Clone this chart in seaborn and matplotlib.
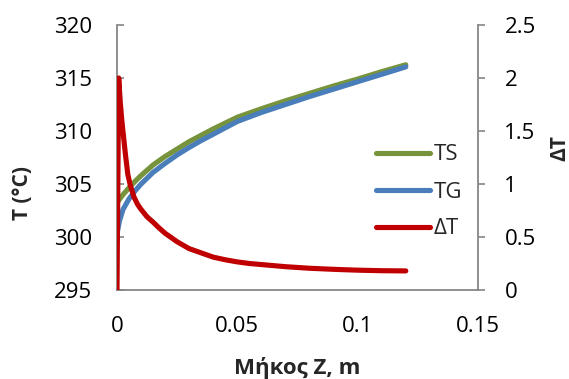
import matplotlib
matplotlib.use("Agg")
import matplotlib.pyplot as plt
import seaborn as sns

# Data
z_t = [0, 0.001, 0.0025, 0.005, 0.0075, 0.01, 0.015, 0.02, 0.025, 0.03, 0.035,
       0.04, 0.05, 0.06, 0.07, 0.08, 0.09, 0.1, 0.11, 0.12]
TS = [303.2, 303.55, 304.0, 304.65, 305.25, 305.8, 306.8, 307.6, 308.3, 309.0, 309.6,
      310.2, 311.3, 312.1, 312.85, 313.55, 314.25, 314.9, 315.6, 316.25]
TG = [300.3, 301.5, 302.6, 303.6, 304.35, 305.0, 306.1, 306.95, 307.75, 308.45, 309.1,
      309.7, 310.9, 311.75, 312.5, 313.25, 313.95, 314.65, 315.35, 316.05]

z_dt = [0, 0.0007, 0.0014, 0.002, 0.0027, 0.0035, 0.0045, 0.0055, 0.007, 0.0085,
        0.01, 0.0125, 0.015, 0.0175, 0.02, 0.025, 0.03, 0.035, 0.04, 0.045, 0.05,
        0.055, 0.06, 0.07, 0.08, 0.09, 0.1, 0.11, 0.12]
dT = [0, 2.0, 1.76, 1.6, 1.45, 1.28, 1.09, 0.99, 0.88, 0.81,
      0.76, 0.69, 0.64, 0.585, 0.535, 0.455, 0.39, 0.35, 0.31, 0.285, 0.265,
      0.25, 0.24, 0.22, 0.205, 0.195, 0.187, 0.182, 0.18]

x_ticks = [0, 0.05, 0.1, 0.15]
x_ticklabels = ["0", "0.05", "0.1", "0.15"]
y_ticks = [295, 300, 305, 310, 315, 320]
y2_ticks = [0, 0.5, 1, 1.5, 2, 2.5]
y2_ticklabels = ["0", "0.5", "1", "1.5", "2", "2.5"]

sns.set_style("white")
plt.rcParams['font.family'] = ['Open Sans', 'DejaVu Sans']

c_ts = "#77933C"
c_tg = "#4A7EBB"
c_dt = "#C00000"
spine_c = "#868686"
fs = 16

fig = plt.figure(figsize=(5.69, 3.79), dpi=100)
ax = fig.add_axes([117/569, 1-290/379, (478-117)/569, (290-25)/379])
ax2 = ax.twinx()

sns.lineplot(x=z_t, y=TS, ax=ax, color=c_ts, lw=3.7, label="TS", legend=False,
             solid_capstyle="round", solid_joinstyle="round")
sns.lineplot(x=z_t, y=TG, ax=ax, color=c_tg, lw=3.7, label="TG", legend=False,
             solid_capstyle="round", solid_joinstyle="round")
sns.lineplot(x=z_dt, y=dT, ax=ax2, color=c_dt, lw=3.7, label="ΔT", legend=False,
             solid_capstyle="round", solid_joinstyle="round")

ax.set_xlim(0, 0.15)
ax.set_ylim(295, 320)
ax2.set_ylim(0, 2.5)
ax.set_xticks(x_ticks)
ax.set_xticklabels(x_ticklabels)
ax.set_yticks(y_ticks)
ax2.set_yticks(y2_ticks)
ax2.set_yticklabels(y2_ticklabels)

for a in (ax, ax2):
    for s in a.spines.values():
        s.set_color(spine_c)
        s.set_linewidth(1.3)
    a.spines['top'].set_visible(False)
ax.spines['right'].set_visible(False)
ax2.spines['left'].set_visible(False)
ax2.spines['bottom'].set_visible(False)

ax.tick_params(axis='both', direction='in', length=5, width=1.2, color=spine_c,
               labelsize=fs, pad=18, labelcolor="black")
ax.tick_params(axis='x', pad=19)
ax2.tick_params(axis='y', direction='out', length=5, width=1.2, color=spine_c,
                labelsize=fs, pad=14, labelcolor="black")

ax.set_xlabel("Μήκος Z, m", fontsize=fs, fontweight="bold")
ax.set_ylabel("T (°C)", fontsize=15, fontweight="bold")
ax2.set_ylabel("ΔT", fontsize=15, fontweight="bold")
ax.xaxis.label.set_va("center")
ax.yaxis.label.set_va("center")
ax2.yaxis.label.set_va("center")
ax.xaxis.set_label_coords((297 - 117) / 361, (290 - 368) / 265)
ax.yaxis.set_label_coords((23 - 117) / 361, (290 - 193) / 265)
ax2.yaxis.set_label_coords((560 - 117) / 361, (290 - 148.5) / 265)
ax.grid(False)
ax2.grid(False)
ax.set_zorder(1)
ax2.set_zorder(2)
ax.patch.set_visible(False)

h1, l1 = ax.get_legend_handles_labels()
h2, l2 = ax2.get_legend_handles_labels()
fig.legend(h1 + h2, l1 + l2, loc="center left", bbox_to_anchor=(376/569, 1-192/379),
           frameon=False, fontsize=fs, handlelength=2.45, handletextpad=0.15,
           labelspacing=0.72, borderpad=0, borderaxespad=0)

fig.savefig("out.png", dpi=100)
